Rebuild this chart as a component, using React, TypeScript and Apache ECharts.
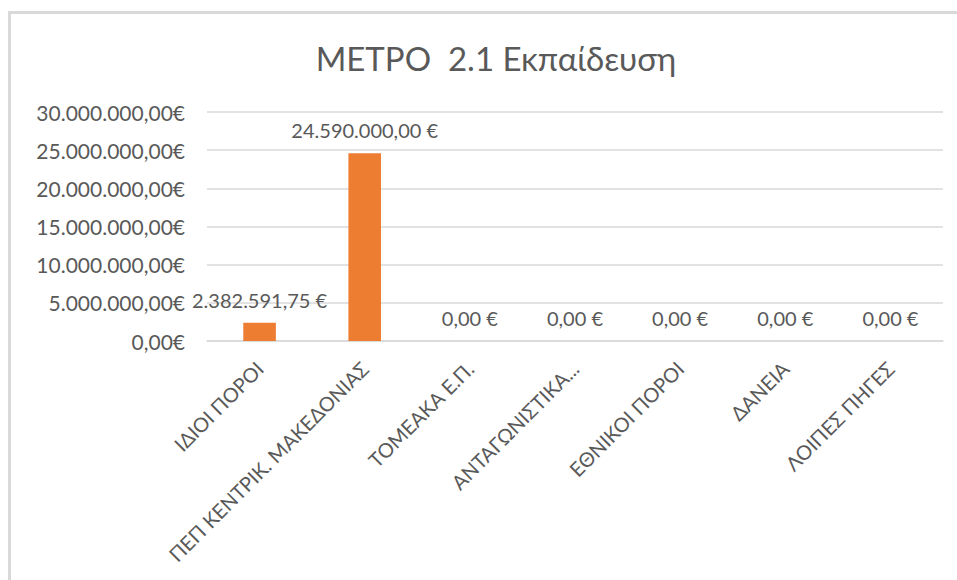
import React, { useEffect, useRef } from "react";
import * as echarts from "echarts";

const categories = [
  "ΙΔΙΟΙ ΠΟΡΟΙ",
  "ΠΕΠ ΚΕΝΤΡΙΚ. ΜΑΚΕΔΟΝΙΑΣ",
  "ΤΟΜΕΑΚΑ Ε.Π.",
  "ΑΝΤΑΓΩΝΙΣΤΙΚΑ...",
  "ΕΘΝΙΚΟΙ ΠΟΡΟΙ",
  "ΔΑΝΕΙΑ",
  "ΛΟΙΠΕΣ ΠΗΓΕΣ",
];
const values = [2382591.75, 24590000, 0, 0, 0, 0, 0];
const titleText = "ΜΕΤΡΟ  2.1 Εκπαίδευση";
const yMax = 30000000;
const yStep = 5000000;

function fmt(v: number, sep: string): string {
  const fixed = v.toFixed(2);
  const [intPart, dec] = fixed.split(".");
  const withDots = intPart.replace(/\B(?=(\d{3})+(?!\d))/g, ".");
  return withDots + "," + dec + sep + "€";
}

export default function App() {
  const ref = useRef<HTMLDivElement>(null);
  useEffect(() => {
    if (!ref.current) return;
    const chart = echarts.init(ref.current, undefined, { renderer: "svg" });
    const font = "Lato, 'Open Sans', sans-serif";
    chart.setOption({
      animation: false,
      backgroundColor: "#ffffff",
      title: {
        text: titleText,
        left: 491,
        textAlign: "center",
        top: 36,
        textStyle: { fontFamily: font, fontSize: 33, fontWeight: "normal", color: "#595959" },
      },
      graphic: [
        { type: "rect", shape: { x: 8, y: 11, width: 3, height: 580 }, style: { fill: "#D9D9D9" }, silent: true },
        { type: "rect", shape: { x: 8, y: 11, width: 960, height: 3 }, style: { fill: "#D9D9D9" }, silent: true },
      ],
      grid: { left: 207, right: 14, top: 112, bottom: 239, containLabel: false },
      xAxis: {
        type: "category",
        data: categories,
        axisLine: { lineStyle: { color: "#D9D9D9", width: 1.5 } },
        axisTick: { show: false },
        axisLabel: {
          rotate: 45,
          interval: 0,
          margin: 24,
          fontFamily: font,
          fontSize: 20,
          color: "#595959",
        },
      },
      yAxis: {
        type: "value",
        min: 0,
        max: yMax,
        interval: yStep,
        axisLine: { show: false },
        axisTick: { show: false },
        splitLine: { lineStyle: { color: "#D9D9D9", width: 1.5 } },
        axisLabel: {
          margin: 22,
          fontFamily: font,
          fontSize: 21,
          color: "#595959",
          formatter: (v: number) => fmt(v, ""),
        },
      },
      series: [
        {
          type: "bar",
          data: values,
          barWidth: "31%",
          itemStyle: { color: "#ED7D31" },
          label: {
            show: true,
            position: "top",
            distance: 13,
            fontFamily: font,
            fontSize: 20,
            color: "#595959",
            formatter: (p: any) => fmt(p.value, " "),
          },
        },
      ],
    });
    return () => chart.dispose();
  }, []);
  return (
    <div
      ref={ref}
      style={{ position: "fixed", left: 0, top: 0, width: 957, height: 580 }}
    />
  );
}
